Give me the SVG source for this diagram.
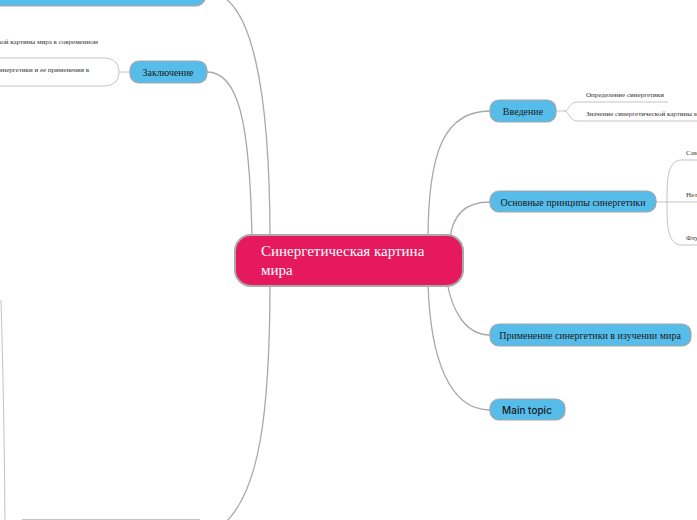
<svg xmlns="http://www.w3.org/2000/svg" width="697" height="520" viewBox="0 0 697 520">
<style>
.c{fill:none;stroke:#a9a9a9;stroke-width:1.3}
.s{fill:none;stroke:#c4c4c4;stroke-width:1}
.b{fill:#56bdea;stroke:#a5a5a5;stroke-width:1.2}
.t{font-family:"Liberation Serif",serif;font-size:10px;fill:#1a1a1a;text-anchor:middle;dominant-baseline:central}
.st{font-family:"Liberation Serif",serif;font-size:7px;fill:#333}
</style>
<rect width="697" height="520" fill="#fff"/>
<g id="connectors">
<path class="c" d="M428,240 C428,150 445,111 490,111"/>
<path class="c" d="M450,240 C452,215 465,202 490,202"/>
<path class="c" d="M447,282 C452,310 465,335 490,335"/>
<path class="c" d="M428,282 C430,360 450,410 490,410"/>
<path class="c" d="M252,240 C250,120 238,72 207,72"/>
<path class="c" d="M270,240 C270,90 252,-8 207,-8"/>
<path class="c" d="M270,282 C270,420 258,490 226,522"/>
<path class="s" d="M556,111 H564 C570,111 568,102 578,102 H668"/>
<path class="s" d="M564,111 C570,111 568,121 578,121 H697"/>
<path class="s" d="M656,202 H697"/>
<path class="s" d="M667,202 C667,180 667,160 682,160 H697"/>
<path class="s" d="M667,202 C667,224 667,245 682,245 H697"/>
<path class="s" d="M130,72 H119"/>
<path class="s" d="M-10,58 H104 C114,58 119,64 119,72 C119,80 114,86 104,86 H-10"/>
<path class="s" d="M1,300 Q4,400 5,522"/>
<path class="s" d="M22,519.5 H200" stroke="#d6d6d6"/>
</g>
<g id="center">
<rect x="235" y="235" width="228" height="51" rx="16" fill="#e7195e" stroke="#a9a9a9" stroke-width="2"/>
<text x="261" y="256" font-family="Liberation Serif,serif" font-size="15" fill="#fff">Синергетическая картина</text>
<text x="261" y="275" font-family="Liberation Serif,serif" font-size="15" fill="#fff">мира</text>
</g>
<g id="vvedenie">
<rect class="b" x="490" y="100" width="66" height="22" rx="9"/>
<text class="t" x="523" y="111">Введение</text>
</g>
<g id="vvedenie-1"><text class="st" x="586" y="97">Определение синергетики</text></g>
<g id="vvedenie-2"><text class="st" x="586" y="116">Значение синергетической картины мира</text></g>
<g id="principy">
<rect class="b" x="490" y="191" width="166" height="21" rx="9"/>
<text class="t" x="573" y="202">Основные принципы синергетики</text>
</g>
<g id="principy-1"><text class="st" x="686" y="155">Самоорганизация</text></g>
<g id="principy-2"><text class="st" x="686" y="197">Нелинейность</text></g>
<g id="principy-3"><text class="st" x="686" y="240">Флуктуации</text></g>
<g id="primenenie">
<rect class="b" x="490" y="324" width="201" height="22" rx="9"/>
<text class="t" x="590" y="335">Применение синергетики в изучении мира</text>
</g>
<g id="main-topic">
<rect class="b" x="490" y="399" width="75" height="21" rx="9"/>
<text x="527" y="410" font-family="Inter,'Noto Sans',sans-serif" font-size="10" font-weight="500" fill="#1a1a1a" text-anchor="middle" dominant-baseline="central">Main topic</text>
</g>
<g id="zaklyuchenie">
<rect class="b" x="130" y="61" width="77" height="22" rx="9"/>
<text class="t" x="168" y="72">Заключение</text>
</g>
<g id="zaklyuchenie-1"><text class="st" x="98" y="44" text-anchor="end">Значение синергетической картины мира в современном</text></g>
<g id="zaklyuchenie-2"><text class="st" x="89" y="72" text-anchor="end">синергетики и ее применения в</text></g>
<g id="top-node">
<rect class="b" x="-30" y="-20" width="236" height="26" rx="11"/>
</g>
</svg>
